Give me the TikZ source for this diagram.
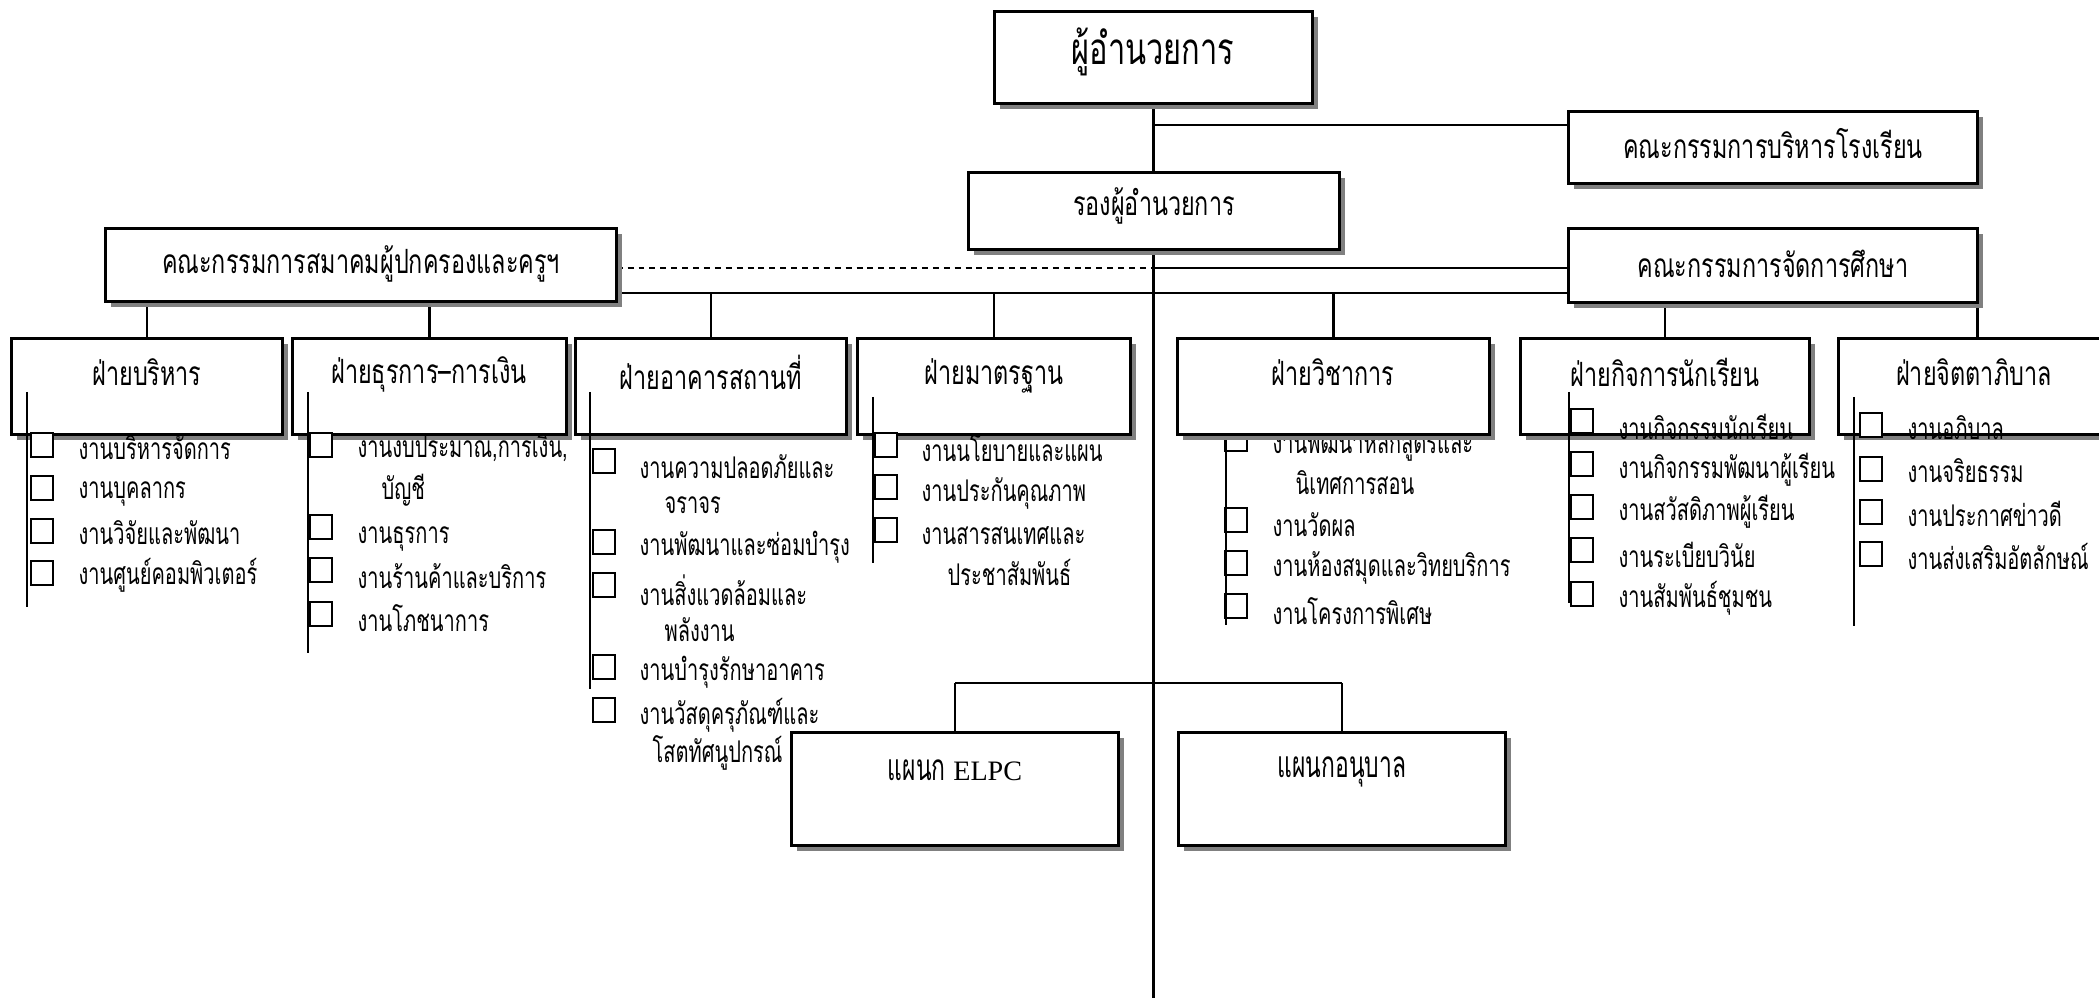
\documentclass[tikz,border=0pt]{standalone}
\usepackage{fontspec}
\setmainfont{Liberation Serif}
\newfontfamily\thaiitm[Script=Thai,FakeStretch=0.67]{Loma}
\newfontfamily\thaittl[Script=Thai,FakeStretch=0.70]{Loma}
\newfontfamily\thaisec[Script=Thai,FakeStretch=0.62]{Loma}
\usetikzlibrary{fit,shadows}
\definecolor{shadowgray}{RGB}{128,128,128}
\tikzset{
  box/.style={draw, line width=0.85pt, fill=white, inner sep=0pt,
    drop shadow={shadow xshift=1.6pt, shadow yshift=-1.6pt, fill=shadowgray, opacity=1}},
  conn/.style={line width=0.7pt},
  conn2/.style={line width=0.5pt},
  thin/.style={line width=0.5pt},
  dashline/.style={line width=0.75pt, dash pattern=on 1.7pt off 1.4pt},
  chk/.style={draw, line width=0.4pt, fill=white, minimum width=0.22cm, minimum height=0.24cm, inner sep=0pt},
  bigtxt/.style={font=\thaittl\fontsize{12.5pt}{14pt}\selectfont, inner sep=0pt},
  ttl/.style={font=\thaittl\fontsize{9.5pt}{11pt}\selectfont, inner sep=0pt},
  itm/.style={font=\thaiitm\fontsize{8.5pt}{10pt}\selectfont, inner sep=0pt, anchor=west},
  sect/.style={font=\thaisec\fontsize{10.5pt}{12pt}\selectfont, inner sep=0pt}
}
\begin{document}
\begin{tikzpicture}[x=0.01cm,y=-0.01cm]
\useasboundingbox (0,0) rectangle (2099,998);
% helper coordinates
\coordinate (by) at (0,125);
\coordinate (dy) at (0,268);
\coordinate (busy) at (0,293);
\coordinate (dashend) at (1199,268);
\coordinate (hy) at (0,683);
\coordinate (bot) at (0,998);

% ---- box frames (named) ----
\path node[fit={(995,12) (1312,103)}, inner sep=0pt] (top) {};
\path node[fit={(969,173) (1339,249)}, inner sep=0pt] (dep) {};
\path node[fit={(1569,112) (1977,183)}, inner sep=0pt] (board) {};
\path node[fit={(106,229) (616,301)}, inner sep=0pt] (pta) {};
\path node[fit={(1569,229) (1977,302)}, inner sep=0pt] (jdk) {};
\path node[fit={(12,339) (282,434)}, inner sep=0pt] (d1) {};
\path node[fit={(293,339) (566,434)}, inner sep=0pt] (d2) {};
\path node[fit={(576,339) (846,434)}, inner sep=0pt] (d3) {};
\path node[fit={(858,339) (1130,434)}, inner sep=0pt] (d4) {};
\path node[fit={(1178,339) (1489,434)}, inner sep=0pt] (d5) {};
\path node[fit={(1521,339) (1809,434)}, inner sep=0pt] (d6) {};
\path node[fit={(1839,339) (2109,434)}, inner sep=0pt] (d7) {};
\path node[fit={(792,733) (1118,845)}, inner sep=0pt] (elpc) {};
\path node[fit={(1179,733) (1505,845)}, inner sep=0pt] (anb) {};

% ---- connectors ----
\draw[conn] (top.south) -- (top.south |- bot);
\draw[conn] (top.south |- by) -- (board.west |- by);
\draw[conn2] (top.south |- dy) -- (jdk.west |- dy);
\draw[dashline] (pta.east |- dashend) -- (dashend);
\draw[conn] (pta.east |- busy) -- (jdk.west |- busy);
\draw[conn] (pta.south -| d1.north) -- (d1.north);
\draw[conn] (pta.south -| d2.north) -- (d2.north);
\draw[conn] (d3.north |- busy) -- (d3.north);
\draw[conn] (d4.north |- busy) -- (d4.north);
\draw[conn] (d5.north |- busy) -- (d5.north);
\draw[conn] (jdk.south -| d6.north) -- (d6.north);
\draw[conn] (jdk.south east) -- (jdk.south east |- d7.north);
\draw[conn] (elpc.north |- hy) -- (anb.north |- hy);
\draw[conn] (elpc.north |- hy) -- (elpc.north);
\draw[conn] (anb.north |- hy) -- (anb.north);

% ---- list of ฝ่ายวิชาการ (partly under its box) ----
\node[chk] (c51) at (1236,439) {};
\node[itm] (t51) at (1272,445) {งานพัฒนาหลักสูตรและ};
\node[itm] (t52) at (1295,483) {นิเทศการสอน};
\node[chk] (c53) at (1236,520) {};
\node[itm] (t53) at (1272,525) {งานวัดผล};
\node[chk] (c54) at (1236,563) {};
\node[itm] (t54) at (1272,568) {งานห้องสมุดและวิทยบริการ};
\node[chk] (c55) at (1236,606) {};
\node[itm] (t55) at (1272,611) {งานโครงการพิเศษ};
\coordinate (l5a) at (1226,436);
\coordinate (l5b) at (1226,625);
\draw[thin] (l5a) -- (l5b);

% ---- boxes drawn ----
\foreach \n in {top,dep,board,pta,jdk,d1,d2,d3,d4,d5,d6,d7}{
  \path[box] (\n.south west) rectangle (\n.north east);
}

% ---- box texts ----
\node[bigtxt] (toptxt) at (1153,52) {ผู้อำนวยการ};
\node[ttl] (deptxt) at (1154,206) {รองผู้อำนวยการ};
\node[ttl] (boardtxt) at (1773,144) {คณะกรรมการบริหารโรงเรียน};
\node[ttl] (ptatxt) at (361,264) {คณะกรรมการสมาคมผู้ปกครองและครูฯ};
\node[ttl] (jdktxt) at (1773,264) {คณะกรรมการจัดการศึกษา};
\node[ttl] (d1t) at (147,372) {ฝ่ายบริหาร};
\node[ttl] (d2t) at (429,374) {ฝ่ายธุรการ–การเงิน};
\node[ttl] (d3t) at (711,372) {ฝ่ายอาคารสถานที่};
\node[ttl] (d4t) at (994,376) {ฝ่ายมาตรฐาน};
\node[ttl] (d5t) at (1333,372) {ฝ่ายวิชาการ};
\node[ttl] (d6t) at (1665,372) {ฝ่ายกิจการนักเรียน};
\node[ttl] (d7t) at (1974,372) {ฝ่ายจิตตาภิบาล};

% ---- list ฝ่ายบริหาร ----
\coordinate (l1a) at (27,392); \coordinate (l1b) at (27,607);
\draw[thin] (l1a) -- (l1b);
\node[chk] (c11) at (42,445) {};
\node[itm] (t11) at (78,448) {งานบริหารจัดการ};
\node[chk] (c12) at (42,488) {};
\node[itm] (t12) at (78,494) {งานบุคลากร};
\node[chk] (c13) at (42,531) {};
\node[itm] (t13) at (78,533) {งานวิจัยและพัฒนา};
\node[chk] (c14) at (42,573) {};
\node[itm] (t14) at (78,575) {งานศูนย์คอมพิวเตอร์};

% ---- list ฝ่ายธุรการ-การเงิน ----
\coordinate (l2a) at (308,392); \coordinate (l2b) at (308,653);
\draw[thin] (l2a) -- (l2b);
\node[chk] (c21) at (321,445) {};
\node[itm] (t21) at (357,448) {งานงบประมาณ,การเงิน,};
\node[itm] (t22) at (381,490) {บัญชี};
\node[chk] (c23) at (321,527) {};
\node[itm] (t23) at (357,539) {งานธุรการ};
\node[chk] (c24) at (321,570) {};
\node[itm] (t24) at (357,576) {งานร้านค้าและบริการ};
\node[chk] (c25) at (321,614) {};
\node[itm] (t25) at (357,618) {งานโภชนาการ};

% ---- list ฝ่ายอาคารสถานที่ ----
\coordinate (l3a) at (590,392); \coordinate (l3b) at (590,689);
\draw[thin] (l3a) -- (l3b);
\node[chk] (c31) at (604,461) {};
\node[itm] (t31) at (639,467) {งานความปลอดภัยและ};
\node[itm] (t32) at (664,505) {จราจร};
\node[chk] (c33) at (604,542) {};
\node[itm] (t33) at (639,547) {งานพัฒนาและซ่อมบำรุง};
\node[chk] (c34) at (604,585) {};
\node[itm] (t34) at (639,590) {งานสิ่งแวดล้อมและ};
\node[itm] (t35) at (664,630) {พลังงาน};
\node[chk] (c36) at (604,667) {};
\node[itm] (t36) at (639,672) {งานบำรุงรักษาอาคาร};
\node[chk] (c37) at (604,710) {};
\node[itm] (t37) at (639,715) {งานวัสดุครุภัณฑ์และ};
\node[itm] (t38) at (652,753) {โสตทัศนูปกรณ์};

% ---- list ฝ่ายมาตรฐาน ----
\coordinate (l4a) at (873,397); \coordinate (l4b) at (873,563);
\draw[thin] (l4a) -- (l4b);
\node[chk] (c41) at (886,445) {};
\node[itm] (t41) at (921,448) {งานนโยบายและแผน};
\node[chk] (c42) at (886,487) {};
\node[itm] (t42) at (921,493) {งานประกันคุณภาพ};
\node[chk] (c43) at (886,530) {};
\node[itm] (t43) at (921,536) {งานสารสนเทศและ};
\node[itm] (t44) at (947,572) {ประชาสัมพันธ์};

% ---- list ฝ่ายกิจการนักเรียน ----
\coordinate (l6a) at (1569,392); \coordinate (l6b) at (1569,603);
\draw[thin] (l6a) -- (l6b);
\node[chk] (c61) at (1582,421) {};
\node[itm] (t61) at (1618,427) {งานกิจกรรมนักเรียน};
\node[chk] (c62) at (1582,464) {};
\node[itm] (t62) at (1618,470) {งานกิจกรรมพัฒนาผู้เรียน};
\node[chk] (c63) at (1582,507) {};
\node[itm] (t63) at (1618,512) {งานสวัสดิภาพผู้เรียน};
\node[chk] (c64) at (1582,550) {};
\node[itm] (t64) at (1618,555) {งานระเบียบวินัย};
\node[chk] (c65) at (1582,594) {};
\node[itm] (t65) at (1618,598) {งานสัมพันธ์ชุมชน};

% ---- list ฝ่ายจิตตาภิบาล ----
\coordinate (l7a) at (1854,397); \coordinate (l7b) at (1854,626);
\draw[thin] (l7a) -- (l7b);
\node[chk] (c71) at (1871,425) {};
\node[itm] (t71) at (1907,428) {งานอภิบาล};
\node[chk] (c72) at (1871,469) {};
\node[itm] (t72) at (1907,471) {งานจริยธรรม};
\node[chk] (c73) at (1871,512) {};
\node[itm] (t73) at (1907,514) {งานประกาศข่าวดี};
\node[chk] (c74) at (1871,554) {};
\node[itm] (t74) at (1907,556) {งานส่งเสริมอัตลักษณ์};

% ---- bottom boxes ----
\foreach \n in {elpc,anb}{
  \path[box] (\n.south west) rectangle (\n.north east);
}
\node[sect] (elpct) at (955,770) {แผนก {\rmfamily\fontsize{8pt}{9pt}\selectfont ELPC}};
\node[sect] (anbt) at (1342,772) {แผนกอนุบาล};
\end{tikzpicture}
\end{document}
